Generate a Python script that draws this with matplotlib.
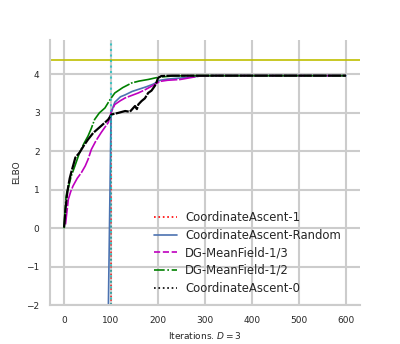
import matplotlib
matplotlib.use('Agg')
import matplotlib.pyplot as plt
from matplotlib.lines import Line2D
import seaborn as sns
import numpy as np

# CoordinateAscent-1 (red dotted)
ca1_x = [100, 100, 101]
ca1_y = [-60.0, 2.9, 3.0]

# CoordinateAscent-Random (blue solid)
car_x = [90, 94, 100, 108, 120, 130, 145, 160, 175, 190, 204, 220, 250, 290, 320, 600]
car_y = [-6.0, -2.3, 3.0, 3.28, 3.42, 3.47, 3.56, 3.62, 3.68, 3.75, 3.85, 3.88, 3.91, 3.96, 3.97, 3.97]

# DG-MeanField-1/3 (magenta dashed)
dg3_x = [3, 5, 9, 14, 19, 28, 37, 45, 51, 58, 68, 79, 87, 94, 101, 108, 120, 130, 145, 158, 172, 187,
         204, 220, 247, 270, 289, 320, 600]
dg3_y = [0.1, 0.32, 0.75, 0.95, 1.1, 1.3, 1.45, 1.62, 1.79, 2.05, 2.28, 2.49, 2.63, 2.75, 3.05, 3.22,
         3.32, 3.39, 3.46, 3.52, 3.6, 3.70, 3.82, 3.85, 3.87, 3.92, 3.96, 3.97, 3.97]

# DG-MeanField-1/2 (green dash-dot)
dg2_x = [0, 2, 4, 6, 9, 15, 23, 33, 42, 51, 58, 65, 75, 87, 98, 108, 125, 144, 160, 179, 201, 230,
         270, 600]
dg2_y = [0.0, 0.45, 0.8, 0.95, 1.05, 1.35, 1.62, 1.97, 2.2, 2.4, 2.6, 2.83, 3.0, 3.13, 3.35, 3.52,
         3.66, 3.78, 3.83, 3.87, 3.93, 3.96, 3.97, 3.97]

# CoordinateAscent-0 (black dotted)
ca0_x = [0, 3, 6, 9, 12, 16, 20, 24, 33, 42, 51, 62, 75, 87, 94, 101, 115, 130, 140, 151, 155, 158,
         165, 172, 179, 186, 193, 197, 200, 207, 230, 600]
ca0_y = [0.02, 0.49, 0.85, 1.1, 1.3, 1.49, 1.66, 1.84, 1.97, 2.15, 2.31, 2.48, 2.62, 2.75, 2.83, 2.96,
         3.0, 3.05, 3.03, 3.18, 3.1, 3.22, 3.31, 3.38, 3.52, 3.58, 3.7, 3.8, 3.91, 3.96, 3.97, 3.97]

elbo_max = 4.37
switch_iter = 100

sns.set_style('whitegrid')
plt.rcParams['grid.linewidth'] = 1.5
plt.rcParams['axes.linewidth'] = 1.5

fig = plt.figure(figsize=(4, 3.44), dpi=100)
ax = fig.add_axes([0.125, 0.113, 0.775, 0.771])

# the real traces are long noisy paths, so their dash patterns look almost solid
ax.plot(ca1_x, ca1_y, color='red', linestyle=':', lw=1.0)
ax.plot(car_x, car_y, color='#4c72b0', linestyle='-', lw=1.2)
ax.plot(dg3_x, dg3_y, color='m', lw=1.2, dashes=(10, 1))
ax.plot(dg2_x, dg2_y, color='g', lw=1.2, dashes=(14, 1, 1, 1))
ax.plot(ca0_x, ca0_y, color='k', lw=1.6, dashes=(6, 0.6))
ax.axhline(elbo_max, color='y', lw=1.2)
ax.axvline(switch_iter, color='c', linestyle=':', lw=1.5, alpha=0.7)

ax.set_xlim(-30, 630)
ax.set_ylim(-2, 4.9)
ax.set_xticks([0, 100, 200, 300, 400, 500, 600])
ax.set_yticks([-2, -1, 0, 1, 2, 3, 4])
ax.tick_params(labelsize=6.5, pad=4)
ax.set_xlabel('Iterations. $D=3$', fontsize=6.5)
ax.set_ylabel('ELBO', fontsize=6.5)
sns.despine(ax=ax)

labels = ['CoordinateAscent-1', 'CoordinateAscent-Random', 'DG-MeanField-1/3',
          'DG-MeanField-1/2', 'CoordinateAscent-0']
handles = [Line2D([], [], color='red', linestyle=':', lw=1.2),
           Line2D([], [], color='#4c72b0', linestyle='-', lw=1.2),
           Line2D([], [], color='m', linestyle='--', lw=1.2),
           Line2D([], [], color='g', linestyle='-.', lw=1.2),
           Line2D([], [], color='k', linestyle=':', lw=1.2)]
ax.legend(handles, labels, loc='lower left', bbox_to_anchor=(0.30, 0.0), frameon=False,
          fontsize=8.4, handlelength=2.0, handletextpad=0.7, labelspacing=0.4)

fig.savefig('out.png', dpi=100)
